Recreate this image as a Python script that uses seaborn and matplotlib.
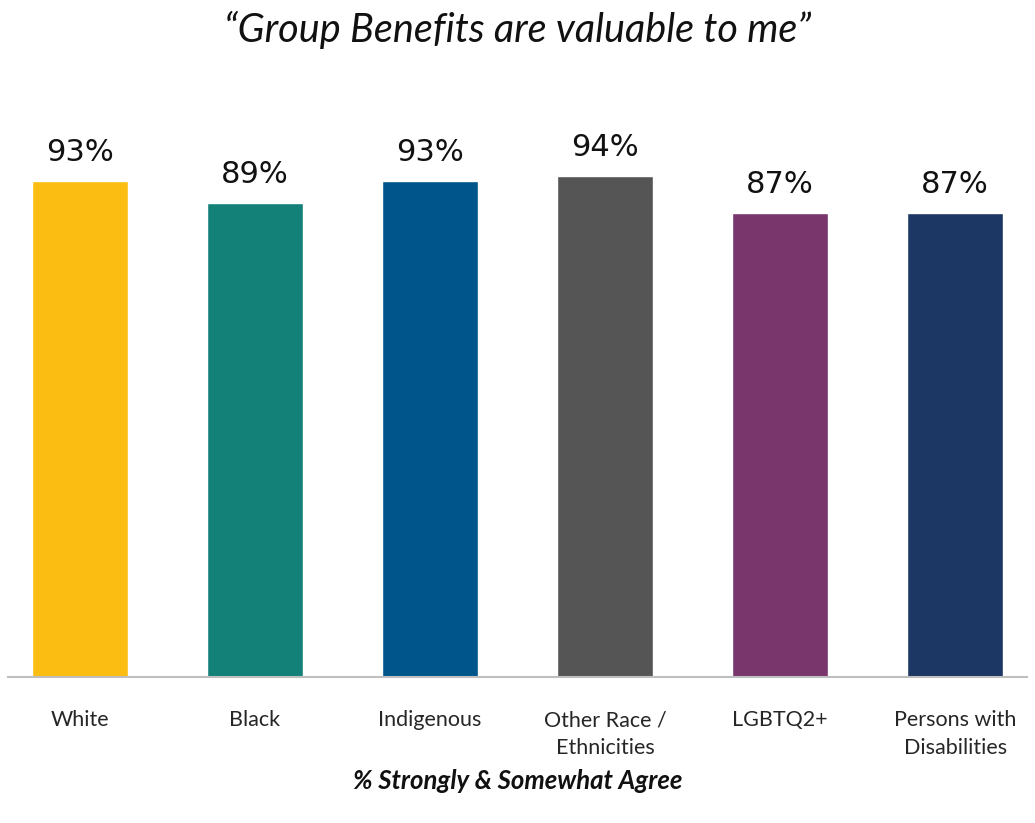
import pandas as pd
import matplotlib.pyplot as plt
import seaborn as sns

# Dados do gráfico
grupos = ['White', 'Black', 'Indigenous', 'Other Race /\nEthnicities',
          'LGBTQ2+', 'Persons with\nDisabilities']
valores = [93, 89, 93, 94, 87, 87]
cores = ['#FCBD12', '#148178', '#00558B', '#555555', '#79366D', '#1C3764']

df = pd.DataFrame({'Grupo': grupos, 'Valor': valores})

sns.set_style("white")
plt.rcParams['font.family'] = ['DejaVu Sans']

fig = plt.figure(figsize=(10.35, 8.23), dpi=100)
ax = fig.add_axes([8 / 1035, 1 - 677 / 823, (1027 - 8) / 1035, 533 / 823])

sns.barplot(data=df, x='Grupo', y='Valor', hue='Grupo', palette=cores,
            legend=False, width=0.55, saturation=1, ax=ax)

# Rótulos de valor
for i, v in enumerate(valores):
    ax.text(i, v + 2.6, f'{v}%', ha='center', va='bottom', fontsize=22,
            color='#111111', clip_on=False)

ax.set_xlim(-0.41, 5.41)
ax.set_ylim(0, 100)
ax.set_yticks([])
ax.set_xlabel('')
ax.set_ylabel('')
for s in ['top', 'right', 'left']:
    ax.spines[s].set_visible(False)
ax.spines['bottom'].set_color('#BFBFBF')
ax.spines['bottom'].set_linewidth(1.5)
ax.tick_params(axis='x', length=0, pad=24)
for lbl in ax.get_xticklabels():
    lbl.set_fontfamily('Lato')
    lbl.set_fontsize(15.5)
    lbl.set_linespacing(1.45)
    lbl.set_va('top')

fig.text(0.5, 1 - 30 / 823, '\u201cGroup Benefits are valuable to me\u201d',
         ha='center', va='center', fontsize=28.5, style='italic',
         family='Lato', color='#111111')
fig.text(0.5, 1 - 781 / 823, '% Strongly & Somewhat Agree', ha='center',
         va='center', fontsize=18.5, style='italic', weight='bold',
         family='Lato', color='#111111')

fig.savefig('out.png', dpi=100)
